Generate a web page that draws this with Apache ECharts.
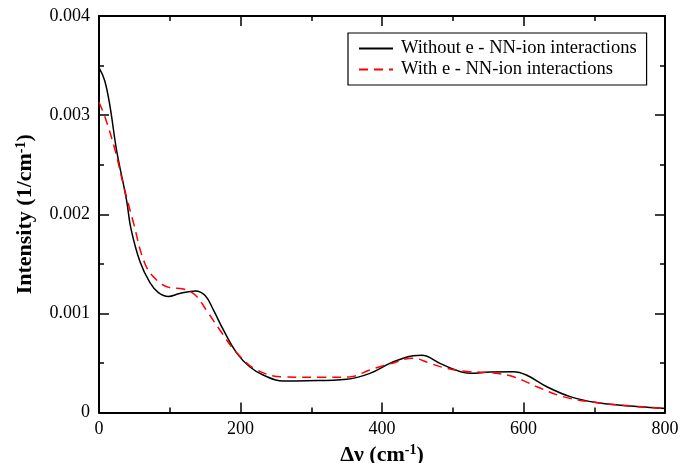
<!DOCTYPE html>
<html><head><meta charset="utf-8">
<script src="https://cdn.jsdelivr.net/npm/echarts@6/dist/echarts.min.js"></script>
<style>html,body{margin:0;padding:0;background:#fff}#c{width:694px;height:463px}</style>
</head><body><div id="c"></div>
<script>
const seriesNames = ['Without e - NN-ion interactions', 'With e - NN-ion interactions'];
const xWithout = [0, 8, 15.5, 25, 39, 45, 58, 72, 84, 98, 114, 136, 150, 162, 176, 195, 213, 232, 260, 293, 350, 383, 411, 421, 444, 456, 482, 501, 524, 553, 586, 604, 633, 666, 703, 750, 797, 800];
const yWithout = [0.00348, 0.00335, 0.00309, 0.00264, 0.00214, 0.00186, 0.00152, 0.00131, 0.00121, 0.00117, 0.00120, 0.001226, 0.00118, 0.00103, 0.00083, 0.000597, 0.000462, 0.000378, 0.000318, 0.00032, 0.000335, 0.000395, 0.000496, 0.000525, 0.000573, 0.000577, 0.000496, 0.000436, 0.000395, 0.000408, 0.000412, 0.000378, 0.00026, 0.00016, 0.0001, 0.000066, 0.000042, 0.00004];
const xWith = [0, 8.5, 22.6, 34, 48.5, 65, 81.5, 100, 119, 136, 152, 171, 195, 223, 260, 317, 355, 383, 411, 444, 468, 491, 524, 557, 586, 619, 656, 703, 750, 797, 800];
const yWith = [0.00313, 0.00298, 0.00265, 0.00231, 0.00192, 0.00150, 0.001337, 0.00126, 0.001246, 0.001185, 0.00103, 0.00083, 0.0006, 0.00043, 0.00036, 0.000355, 0.00036, 0.00043, 0.00049, 0.000547, 0.000496, 0.000446, 0.000412, 0.0004, 0.00036, 0.00026, 0.00016, 0.0001, 0.000068, 0.000042, 0.00004];
const xTicks = [0, 200, 400, 600, 800];
const yTicks = ['0', '0.001', '0.002', '0.003', '0.004'];

const zip = (xs, ys) => xs.map((x, i) => [x, ys[i]]);
const font = 'Liberation Serif';
const axisCommon = {
  axisLine: { onZero: false, lineStyle: { color: '#000', width: 2 } },
  axisTick: { inside: true, length: 10, lineStyle: { color: '#000', width: 1.5 } },
  minorTick: { show: true, splitNumber: 2, length: 5, lineStyle: { color: '#000', width: 1.5 } },
  splitLine: { show: false }
};
const nameRich = {
  b: { fontFamily: font, fontSize: 22, fontWeight: 'bold', color: '#000' },
  s: { fontFamily: font, fontSize: 14, fontWeight: 'bold', color: '#000', verticalAlign: 'top', padding: [0, 0, 9, 0] }
};
const chart = echarts.init(document.getElementById('c'));
chart.setOption({
  animation: false,
  grid: { left: 99, right: 29, top: 16, bottom: 50.5, outerBoundsMode: 'none', containLabel: false },
  legend: {
    orient: 'vertical', left: 348, top: 33, itemWidth: 34, itemHeight: 10, itemGap: 2,
    padding: [6, 10, 6, 10], borderColor: '#000', borderWidth: 1.2,
    itemStyle: { opacity: 0 },
    textStyle: { fontFamily: font, fontSize: 18.5, color: '#000', padding: [0, 0, 0, 3] },
    data: seriesNames
  },
  xAxis: [
    Object.assign({}, axisCommon, {
      type: 'value', min: 0, max: 800, interval: 200,
      name: '{b|Δν (cm}{s|-1}{b|)}', nameLocation: 'middle', nameGap: 25,
      nameTextStyle: { rich: nameRich },
      axisLabel: { fontFamily: font, fontSize: 18, color: '#000', margin: 8,
        formatter: v => xTicks.includes(v) ? String(v) : '' }
    }),
    Object.assign({}, axisCommon, { type: 'value', min: 0, max: 800, interval: 200, position: 'top', axisLabel: { show: false } })
  ],
  yAxis: [
    Object.assign({}, axisCommon, {
      type: 'value', min: 0, max: 0.004, interval: 0.001,
      name: '{b|Intensity (1/cm}{s|-1}{b|)}', nameLocation: 'middle', nameGap: 62, nameRotate: 90,
      nameTextStyle: { rich: nameRich },
      axisLabel: { fontFamily: font, fontSize: 18, color: '#000', margin: 9,
        formatter: v => yTicks[Math.round(v / 0.001)] }
    }),
    Object.assign({}, axisCommon, { type: 'value', min: 0, max: 0.004, interval: 0.001, position: 'right', axisLabel: { show: false } })
  ],
  series: [
    { name: seriesNames[0], type: 'line', smooth: 0.4, symbol: 'none', data: zip(xWithout, yWithout),
      lineStyle: { color: '#000', width: 1.5 }, itemStyle: { color: '#000' } },
    { name: seriesNames[1], type: 'line', smooth: 0.4, symbol: 'none', data: zip(xWith, yWith),
      lineStyle: { color: '#ff0000', width: 1.5, type: [9, 6] }, itemStyle: { color: '#ff0000' } }
  ]
});
</script></body></html>
